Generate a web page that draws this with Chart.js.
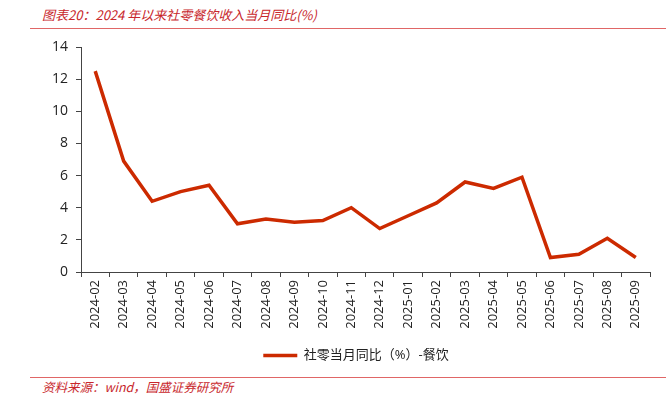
<!DOCTYPE html>
<html>
<head>
<meta charset="utf-8">
<script src="https://cdn.jsdelivr.net/npm/chart.js@4.4.1/dist/chart.umd.min.js"></script>
<style>
  body { margin: 0; background: #fff; width: 666px; height: 399px; overflow: hidden; position: relative; }
  .title { position: absolute; left: 42px; top: 5px; font: italic 13px "Noto Sans CJK SC", sans-serif; color: #c8262b; }
  .rule { position: absolute; left: 30px; right: 0; height: 1px; background: #e06666; }
  .source { position: absolute; left: 42px; top: 377px; font: italic 12.5px "Noto Sans CJK SC", sans-serif; color: #c8262b; }
  #wrap { position: absolute; left: 0; top: 30px; width: 666px; height: 342px; }
</style>
</head>
<body>
<div class="title">图表20：2024 年以来社零餐饮收入当月同比(%)</div>
<div class="rule" style="top:28px"></div>
<div id="wrap"><canvas id="myChart"></canvas></div>
<div class="rule" style="top:377px"></div>
<div class="source">资料来源：wind，国盛证券研究所</div>
<script>
const labels = [
  '2024-02', '2024-03', '2024-04', '2024-05', '2024-06', '2024-07', '2024-08',
  '2024-09', '2024-10', '2024-11', '2024-12', '2025-01', '2025-02', '2025-03',
  '2025-04', '2025-05', '2025-06', '2025-07', '2025-08', '2025-09'
];
const cateringYoY = [12.5, 6.9, 4.4, 5.0, 5.4, 3.0, 3.3, 3.1, 3.2, 4.0, 2.7, 3.5, 4.3, 5.6, 5.2, 5.9, 0.9, 1.1, 2.1, 0.9];
const yTicks = [0, 2, 4, 6, 8, 10, 12, 14];

const font = { family: '"Open Sans", "Noto Sans CJK SC", sans-serif' };

// legend in the original sits a bit right of the canvas centre
const shiftLegend = {
  id: 'shiftLegend',
  beforeDraw(chart) {
    if (chart.legend) chart.legend.left = 62;
  }
};

const data = {
  labels: labels,
  datasets: [{
    label: '社零当月同比（%）-餐饮',
    data: cateringYoY,
    borderColor: '#cc2a00',
    backgroundColor: '#cc2a00',
    borderWidth: 3.5,
    pointRadius: 0,
    tension: 0
  }]
};

const config = {
  type: 'line',
  data: data,
  plugins: [shiftLegend],
  options: {
    responsive: true,
    maintainAspectRatio: false,
    animation: false,
    layout: { padding: { left: 0, right: 16, top: 17, bottom: 0 } },
    plugins: {
      legend: {
        position: 'bottom',
        labels: {
          usePointStyle: true,
          pointStyle: 'line',
          pointStyleWidth: 34,
          color: '#222',
          font: { ...font, size: 13 },
          padding: 8
        }
      },
      tooltip: { enabled: false }
    },
    scales: {
      x: {
        offset: true,
        grid: { display: true, drawOnChartArea: false, offset: true, tickLength: 5, color: '#444' },
        border: { color: '#444' },
        ticks: { color: '#222', minRotation: 90, maxRotation: 90, autoSkip: false, font: { ...font, size: 13 }, padding: 3 },
        afterFit: (s) => { s.height = 69; }
      },
      y: {
        min: 0,
        max: 14,
        afterBuildTicks: (s) => { s.ticks = yTicks.map(v => ({ value: v })); },
        grid: { display: true, drawOnChartArea: false, tickLength: 5, color: '#444' },
        border: { color: '#444' },
        ticks: { color: '#222', font: { ...font, size: 14 }, padding: 8 },
        afterFit: (s) => { s.width = 81; }
      }
    }
  }
};

new Chart(document.getElementById('myChart'), config);
</script>
</body>
</html>
